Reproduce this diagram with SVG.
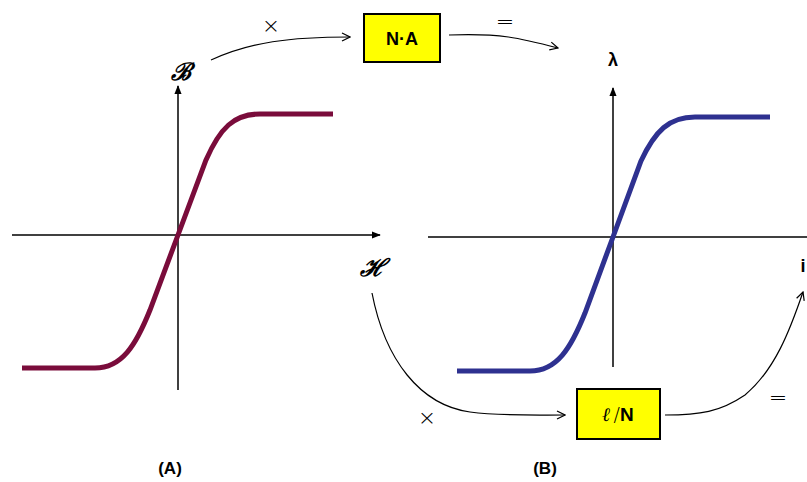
<svg xmlns="http://www.w3.org/2000/svg" width="807" height="482" viewBox="0 0 807 482">
<style>
.axis{stroke:#000;stroke-width:1.5;fill:none}
.conn{stroke:#000;stroke-width:1.2;fill:none}
.box{fill:#ffff00;stroke:#000;stroke-width:2}
.lbl{font-family:"Liberation Sans",Arial,sans-serif;font-weight:bold;fill:#000}
.sym{font-family:"DejaVu Sans",sans-serif;font-weight:200;fill:#000;font-size:22px}
.scr{font-family:"DejaVu Serif",serif;font-style:italic;font-weight:bold;fill:#000;font-size:24px}
</style>
<defs>
<marker id="ah" viewBox="0 0 10 10" refX="9" refY="5" markerWidth="10" markerHeight="10" markerUnits="userSpaceOnUse" orient="auto">
<path d="M1,1 L9,5 L1,9" fill="none" stroke="#000" stroke-width="1.2"/>
</marker>
<marker id="af" viewBox="0 0 10 10" refX="9" refY="5" markerWidth="9" markerHeight="9" markerUnits="userSpaceOnUse" orient="auto">
<path d="M0,1 L10,5 L0,9 Z" fill="#000"/>
</marker>
</defs>
<rect width="807" height="482" fill="#fff"/>
<g id="graphA">
<line class="axis" x1="178" y1="390" x2="178" y2="86" marker-end="url(#af)"/>
<line class="axis" x1="12" y1="235" x2="380" y2="235" marker-end="url(#af)"/>
<path d="M22,368 L95,368 C122,368 136,345 150,310 L178,235 L206,160 C220,128 234,114 260,114 L333,114" fill="none" stroke="#7a0c3b" stroke-width="5"/>
<text class="scr" x="181" y="80" text-anchor="middle">ℬ</text>
<text class="scr" x="372" y="276" text-anchor="middle">ℋ</text>
<text class="lbl" x="170" y="474" font-size="17" text-anchor="middle">(A)</text>
</g>
<g id="graphB">
<line class="axis" x1="613" y1="367" x2="613" y2="88" marker-end="url(#af)"/>
<line class="axis" x1="428" y1="237" x2="807" y2="237"/>
<path d="M457,371 L530,371 C557,371 571,348 585,313 L613,237 L641,161 C655,131 669,117 695,117 L770,117" fill="none" stroke="#2e3190" stroke-width="5"/>
<text class="lbl" x="613" y="66" font-size="18" text-anchor="middle">λ</text>
<text class="lbl" x="803" y="272" font-size="18" text-anchor="middle">i</text>
<text class="lbl" x="545" y="474" font-size="17" text-anchor="middle">(B)</text>
</g>
<g id="nodeNA">
<rect class="box" x="364" y="14" width="76" height="48"/>
<text class="lbl" x="402" y="45" font-size="18" text-anchor="middle">N·A</text>
</g>
<g id="nodeLN">
<rect class="box" x="577" y="389" width="83" height="50"/>
<text x="618" y="421" font-size="19" text-anchor="middle" fill="#000"><tspan font-family="DejaVu Serif,serif" font-style="italic" font-weight="bold">ℓ</tspan><tspan font-family="DejaVu Sans,sans-serif" font-weight="200" dx="3">/</tspan><tspan font-family="Liberation Sans,Arial,sans-serif" font-weight="bold">N</tspan></text>
</g>
<g id="connectors">
<path class="conn" d="M211,60 C250,42 290,37 350,37" marker-end="url(#ah)"/>
<path class="conn" d="M449,35 C500,33 520,38 558,48" marker-end="url(#ah)"/>
<path class="conn" d="M372,293 C385,360 420,405 470,412 C500,416 530,415 565,415" marker-end="url(#ah)"/>
<path class="conn" d="M665,415 C700,415 720,412 745,395 C775,370 790,330 803,292" marker-end="url(#ah)"/>
<text class="sym" x="271" y="33" text-anchor="middle">×</text>
<text class="sym" x="505" y="29" text-anchor="middle">=</text>
<text class="sym" x="427" y="425" text-anchor="middle">×</text>
<text class="sym" x="778" y="405" text-anchor="middle">=</text>
</g>
</svg>
